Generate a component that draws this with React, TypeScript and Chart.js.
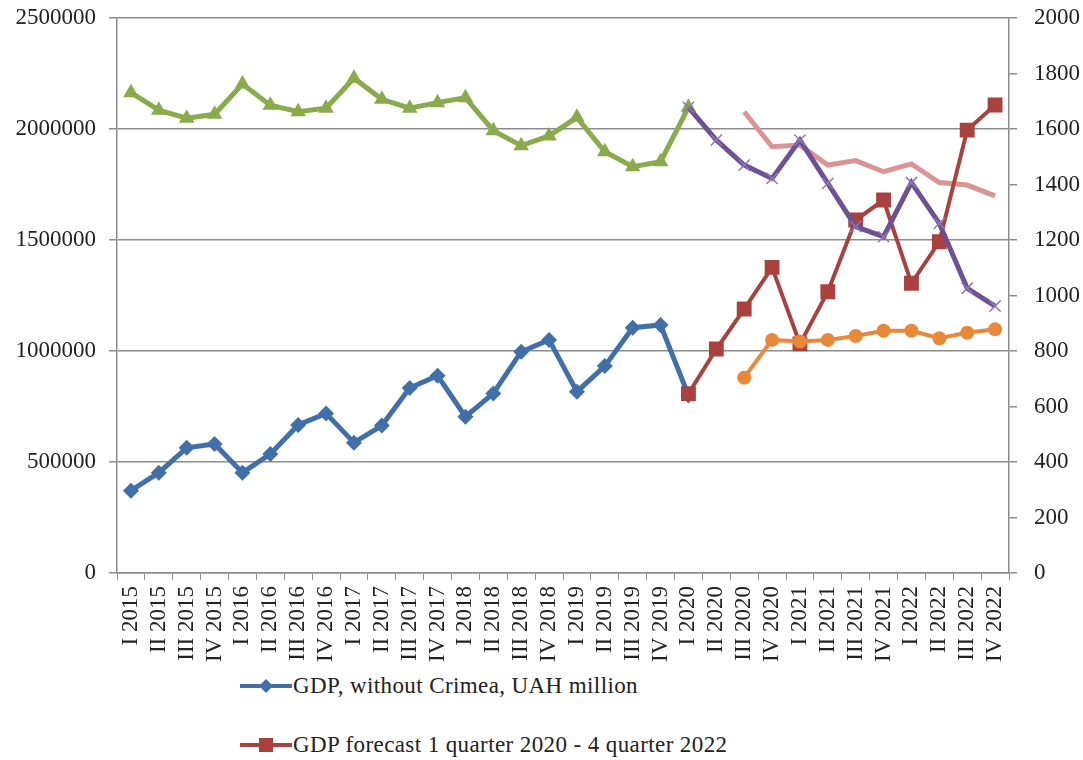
import React, { useEffect, useRef } from "react";
import { Chart, registerables } from "chart.js";

Chart.register(...registerables);

const quarters = [
  "I 2015", "II 2015", "III 2015", "IV 2015",
  "I 2016", "II 2016", "III 2016", "IV 2016",
  "I 2017", "II 2017", "III 2017", "IV 2017",
  "I 2018", "II 2018", "III 2018", "IV 2018",
  "I 2019", "II 2019", "III 2019", "IV 2019",
  "I 2020", "II 2020", "III 2020", "IV 2020",
  "I 2021", "II 2021", "III 2021", "IV 2021",
  "I 2022", "II 2022", "III 2022", "IV 2022",
];

// Left axis (UAH million)
const gdpActual = [
  371000, 452000, 564000, 581000, 452000, 536000, 667000, 719000,
  587000, 664000, 833000, 889000, 704000, 809000, 997000, 1050000,
  817000, 932000, 1105000, 1117000, 800000,
];
const gdpForecast = [
  808000, 1009000, 1189000, 1377000, 1032000, 1267000, 1590000, 1680000,
  1305000, 1492000, 1995000, 2108000,
];

// Right axis
const greenSeries = [
  1731, 1668, 1639, 1653, 1762, 1686, 1662, 1675, 1783, 1707, 1675, 1695,
  1713, 1594, 1540, 1575, 1642, 1518, 1464, 1482, 1678,
];
const purpleSeries = [1678, 1560, 1470, 1422, 1560, 1404, 1248, 1212, 1407, 1260, 1026, 962];
const pinkSeries = [1662, 1536, 1542, 1470, 1486, 1446, 1474, 1407, 1398, 1359];
const orangeSeries = [704, 840, 834, 840, 854, 873, 873, 846, 866, 878];

const leftTicks = [0, 500000, 1000000, 1500000, 2000000, 2500000];
const rightTicks = [0, 200, 400, 600, 800, 1000, 1200, 1400, 1600, 1800, 2000];

const legendLabels = [
  "GDP, without Crimea, UAH million",
  "GDP forecast 1 quarter 2020 - 4 quarter 2022",
];

const BLUE = "#4170a9";
const RED = "#a9423f";
const GREEN = "#8aaa4c";
const PURPLE = "#6c5195";
const PINK = "#d99593";
const ORANGE = "#e8893a";
const GRID = "#8c8c8c";
const FONT = "'Liberation Serif', 'Times New Roman', serif";

const pad = (n: number, arr: number[]) => [...Array(n).fill(null), ...arr];
const tail = (arr: number[]) => [...arr, ...Array(quarters.length - arr.length).fill(null)];

export default function App() {
  const ref = useRef<HTMLCanvasElement | null>(null);

  useEffect(() => {
    if (!ref.current) return;
    const tickFont = { family: FONT, size: 23 };
    const plain = (v: any) => String(v);
    const chart = new Chart(ref.current, {
      type: "line",
      data: {
        labels: quarters,
        datasets: [
          {
            label: "orange",
            data: pad(quarters.length - orangeSeries.length, orangeSeries),
            yAxisID: "y1",
            borderColor: ORANGE,
            backgroundColor: ORANGE,
            borderWidth: 4,
            pointStyle: "circle",
            pointRadius: 7,
            pointBorderWidth: 0,
            order: 1,
          },
          {
            label: "purple",
            data: pad(quarters.length - purpleSeries.length, purpleSeries),
            yAxisID: "y1",
            borderColor: PURPLE,
            backgroundColor: "#8d79b4",
            borderWidth: 5,
            pointStyle: "crossRot",
            pointRadius: 8,
            pointBorderWidth: 1.5,
            pointBorderColor: "#8d79b4",
            order: 2,
          },
          {
            label: legendLabels[1],
            data: pad(quarters.length - gdpForecast.length, gdpForecast),
            yAxisID: "y",
            borderColor: RED,
            backgroundColor: RED,
            borderWidth: 4,
            pointStyle: "rect",
            pointRadius: 10.5,
            pointBorderWidth: 0,
            order: 3,
          },
          {
            label: "pink",
            data: pad(quarters.length - pinkSeries.length, pinkSeries),
            yAxisID: "y1",
            borderColor: PINK,
            backgroundColor: PINK,
            borderWidth: 5,
            pointRadius: 0,
            order: 4,
          },
          {
            label: "green",
            data: tail(greenSeries),
            yAxisID: "y1",
            borderColor: GREEN,
            backgroundColor: GREEN,
            borderWidth: 5,
            pointStyle: "triangle",
            pointRadius: 9,
            pointBorderWidth: 0,
            order: 5,
          },
          {
            label: legendLabels[0],
            data: tail(gdpActual),
            yAxisID: "y",
            borderColor: BLUE,
            backgroundColor: BLUE,
            borderWidth: 5,
            pointStyle: "rectRot",
            pointRadius: 8,
            pointBorderWidth: 0,
            order: 6,
          },
        ],
      },
      options: {
        responsive: false,
        animation: false,
        layout: { padding: { top: 18, left: 0, right: 0, bottom: 0 } },
        plugins: { legend: { display: false }, tooltip: { enabled: false } },
        elements: { line: { tension: 0 } },
        scales: {
          x: {
            type: "category",
            offset: true,
            grid: {
              offset: true,
              drawOnChartArea: false,
              drawTicks: true,
              tickLength: 7,
              color: GRID,
            },
            border: { color: GRID, width: 1.5 },
            ticks: {
              autoSkip: false,
              minRotation: 90,
              maxRotation: 90,
              padding: 6,
              color: "#222",
              font: tickFont,
            },
            afterFit: (s: any) => {
              s.height = 97;
              s.paddingLeft = 0;
              s.paddingRight = 0;
            },
          },
          y: {
            position: "left",
            min: 0,
            max: 2500000,
            afterBuildTicks: (s: any) => {
              s.ticks = leftTicks.map((v) => ({ value: v }));
            },
            grid: { color: GRID, lineWidth: 1.5, tickLength: 8 },
            border: { color: GRID, width: 1.5 },
            ticks: { padding: 13, color: "#222", font: tickFont, callback: plain },
            afterFit: (s: any) => {
              s.width = 117;
              s.paddingTop = 0;
              s.paddingBottom = 0;
            },
          },
          y1: {
            position: "right",
            min: 0,
            max: 2000,
            afterBuildTicks: (s: any) => {
              s.ticks = rightTicks.map((v) => ({ value: v }));
            },
            grid: { drawOnChartArea: false, color: GRID, lineWidth: 1.5, tickLength: 8 },
            border: { color: GRID, width: 1.5 },
            ticks: { padding: 17, color: "#222", font: tickFont, callback: plain },
            afterFit: (s: any) => {
              s.width = 74;
              s.paddingTop = 0;
              s.paddingBottom = 0;
            },
          },
        },
      },
    });
    return () => chart.destroy();
  }, []);

  const legendItem = (top: number, color: string, marker: React.ReactNode, text: string) => (
    <div
      style={{
        position: "absolute",
        left: 240,
        top: top - 16,
        height: 32,
        display: "flex",
        alignItems: "center",
        fontFamily: FONT,
        fontSize: 23,
        letterSpacing: 0.4,
        color: "#222",
        whiteSpace: "nowrap",
      }}
    >
      <svg width={52} height={20} style={{ marginRight: 1 }}>
        <line x1={0} y1={10} x2={52} y2={10} stroke={color} strokeWidth={4} />
        {marker}
      </svg>
      <span>{text}</span>
    </div>
  );

  return (
    <div style={{ position: "absolute", left: 0, top: 0, width: 1083, height: 760, background: "#fff" }}>
      <canvas ref={ref} width={1083} height={670} style={{ display: "block", width: 1083, height: 670 }} />
      {legendItem(686, BLUE, <polygon points="26,3 33,10 26,17 19,10" fill={BLUE} />, legendLabels[0])}
      {legendItem(745, RED, <rect x={19} y={3} width={14} height={14} fill={RED} />, legendLabels[1])}
    </div>
  );
}
